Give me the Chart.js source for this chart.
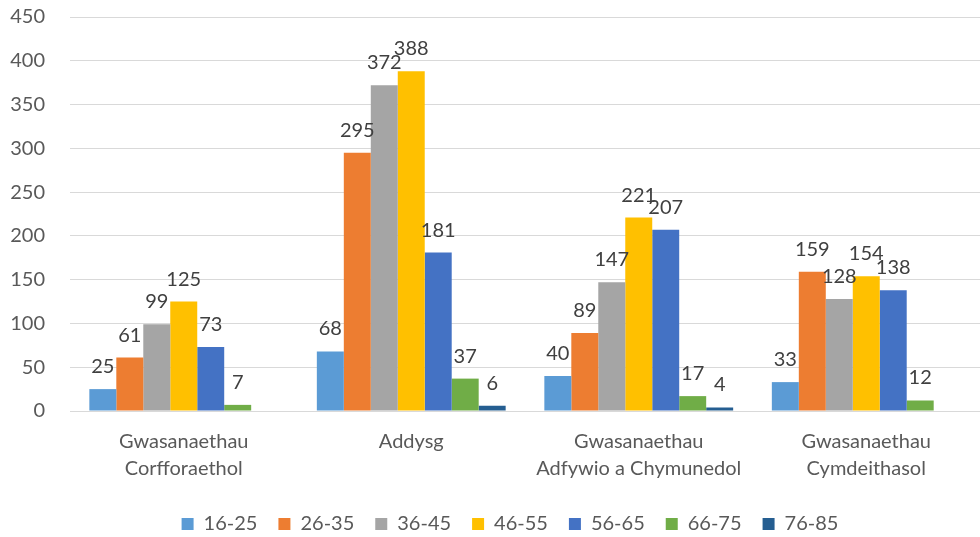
<!DOCTYPE html>
<html>
<head>
<meta charset="utf-8">
<script src="https://cdn.jsdelivr.net/npm/chart.js@4/dist/chart.umd.min.js"></script>
<style>
html,body{margin:0;padding:0;background:#fff;}
#wrap{width:980px;height:537px;}
</style>
</head>
<body>
<div id="wrap"><canvas id="c" width="980" height="537"></canvas></div>
<script>
const categories = [["Gwasanaethau","Corfforaethol"],["Addysg"],["Gwasanaethau","Adfywio a Chymunedol"],["Gwasanaethau","Cymdeithasol"]];
const seriesNames = ["16-25","26-35","36-45","46-55","56-65","66-75","76-85"];
const s16_25 = [25, 68, 40, 33];
const s26_35 = [61, 295, 89, 159];
const s36_45 = [99, 372, 147, 128];
const s46_55 = [125, 388, 221, 154];
const s56_65 = [73, 181, 207, 138];
const s66_75 = [7, 37, 17, 12];
const s76_85 = [null, 6, 4, null];
const yTicks = [0,50,100,150,200,250,300,350,400,450];
const colors = ["#5B9BD5","#ED7D31","#A5A5A5","#FFC000","#4472C4","#70AD47","#255E91"];
const allSeries = [s16_25,s26_35,s36_45,s46_55,s56_65,s66_75,s76_85];

const FONT = "Lato, 'Open Sans', sans-serif";

const labelPlugin = {
  id: 'barLabels',
  afterLayout(chart) {
    const lg = chart.legend;
    if (lg) {
      lg.left += 20; lg.right += 20;
      lg.top += 2; lg.bottom += 2;
    }
  },
  afterDatasetsDraw(chart) {
    const ctx = chart.ctx;
    ctx.save();
    ctx.font = "20px " + FONT;
    ctx.fillStyle = "#404040";
    ctx.textAlign = "center";
    ctx.textBaseline = "alphabetic";
    chart.data.datasets.forEach((ds, i) => {
      const meta = chart.getDatasetMeta(i);
      meta.data.forEach((bar, j) => {
        const v = ds.data[j];
        if (v === null || v === undefined) return;
        ctx.fillText(String(v), bar.x, bar.y - 16);
      });
    });
    ctx.restore();
  }
};

new Chart(document.getElementById('c'), {
  type: 'bar',
  data: {
    labels: categories,
    datasets: seriesNames.map((n, i) => ({
      label: n,
      data: allSeries[i],
      backgroundColor: colors[i],
      borderWidth: 0,
      categoryPercentage: 0.83,
      barPercentage: 1.0
    }))
  },
  options: {
    responsive: false,
    animation: false,
    devicePixelRatio: 1,
    layout: { padding: { left: 0, right: 0, top: 17, bottom: -5 } },
    scales: {
      x: {
        grid: { display: false },
        border: { display: true, color: "#D9D9D9", width: 1 },
        ticks: { color: "#595959", font: { family: FONT, size: 20, lineHeight: 1.35 }, padding: 9, maxRotation: 0, autoSkip: false }
      },
      y: {
        min: 0, max: 450,
        afterBuildTicks(axis) { axis.ticks = yTicks.map(v => ({ value: v })); },
        afterFit(axis) { axis.width = 70; },
        grid: { color: "#D9D9D9", lineWidth: 1, drawTicks: true, tickLength: 25, tickColor: "rgba(0,0,0,0)" },
        border: { display: false },
        ticks: { color: "#595959", font: { family: FONT, size: 20 }, padding: 0 }
      }
    },
    plugins: {
      legend: {
        position: 'bottom',
        labels: { color: "#595959", font: { family: FONT, size: 20 }, boxWidth: 12, boxHeight: 12, padding: 21 }
      },
      tooltip: { enabled: false }
    }
  },
  plugins: [labelPlugin]
});
</script>
</body>
</html>
